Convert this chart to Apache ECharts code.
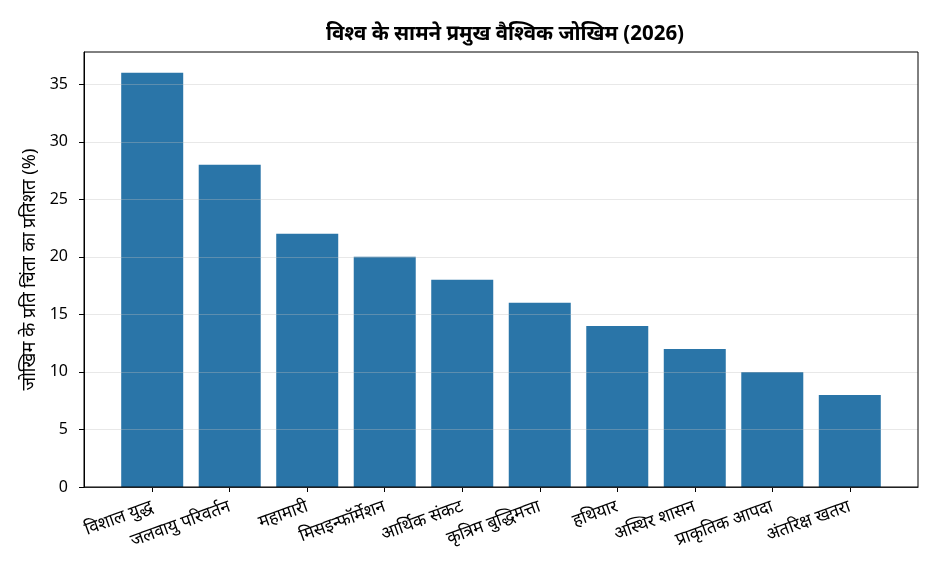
<!DOCTYPE html>
<html>
<head>
<meta charset="utf-8">
<script src="https://cdn.jsdelivr.net/npm/echarts@6/dist/echarts.min.js"></script>
<style>html,body{margin:0;padding:0;background:#fff}#c{width:936px;height:572px}</style>
</head>
<body>
<div id="c"></div>
<script>
const categories = ['विशाल युद्ध','जलवायु परिवर्तन','महामारी','मिसइन्फॉर्मेशन','आर्थिक संकट','कृत्रिम बुद्धिमत्ता','हथियार','अस्थिर शासन','प्राकृतिक आपदा','अंतरिक्ष खतरा'];
const values = [36, 28, 22, 20, 18, 16, 14, 12, 10, 8];
const yTicks = [0, 5, 10, 15, 20, 25, 30, 35];
const titleText = 'विश्व के सामने प्रमुख वैश्विक जोखिम (2026)';
const yName = 'जोखिम के प्रति चिंता का प्रतिशत (%)';

const font = "'Noto Sans', 'DejaVu Sans', sans-serif";
const idx = categories.map((_, i) => i);
const chart = echarts.init(document.getElementById('c'), null, {renderer: 'canvas'});
chart.setOption({
  animation: false,
  title: {
    text: titleText, left: 500, top: 19, textAlign: 'center',
    textStyle: {fontFamily: font, fontSize: 20.5, fontWeight: 'bold', color: '#000'}
  },
  grid: {left: 84, right: 18, top: 52, bottom: 85, show: true, borderColor: '#000', borderWidth: 1, z: 10},
  xAxis: {
    type: 'value', min: -0.88, max: 9.88,
    axisLine: {show: true, onZero: false, lineStyle: {color: '#000'}},
    axisTick: {show: true, customValues: idx, length: 5, lineStyle: {color: '#000'}},
    axisLabel: {
      customValues: idx, rotate: 20, margin: 19, fontFamily: font, fontSize: 17.5, color: '#000',
      formatter: v => categories[Math.round(v)]
    },
    splitLine: {show: false}
  },
  yAxis: {
    type: 'value', min: 0, max: 37.8,
    name: yName, nameLocation: 'middle', nameGap: 42, nameRotate: 90,
    nameTextStyle: {fontFamily: font, fontSize: 18.3, color: '#000'},
    axisLine: {show: true, onZero: false, lineStyle: {color: '#000'}},
    axisTick: {show: true, customValues: yTicks, length: 5, lineStyle: {color: '#000'}},
    axisLabel: {customValues: yTicks, margin: 16, fontFamily: font, fontSize: 16, color: '#000'},
    splitLine: {show: true, lineStyle: {color: 'rgba(190,190,190,0.35)', width: 1}},
    z: 5
  },
  series: [{
    type: 'bar',
    data: values.map((v, i) => [i, v]),
    barWidth: 62,
    itemStyle: {color: '#2a75a8'},
    z: 1
  }]
});
</script>
</body>
</html>
